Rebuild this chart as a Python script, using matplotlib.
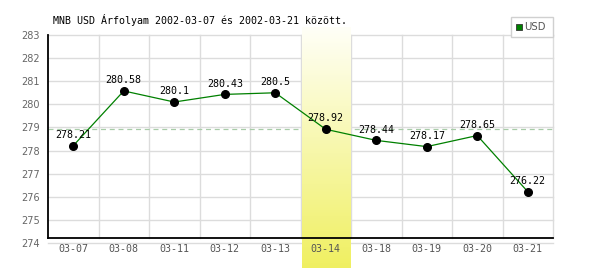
import matplotlib
matplotlib.use("Agg")
import matplotlib.pyplot as plt
import numpy as np
from matplotlib.patches import Rectangle

title = "MNB USD Árfolyam 2002-03-07 és 2002-03-21 között."
series_name = "USD"
dates = ["03-07", "03-08", "03-11", "03-12", "03-13", "03-14", "03-18", "03-19", "03-20", "03-21"]
values = [278.21, 280.58, 280.1, 280.43, 280.5, 278.92, 278.44, 278.17, 278.65, 276.22]
highlight_index = 5
y_ticks = [274, 275, 276, 277, 278, 279, 280, 281, 282, 283]

W, H = 600, 270
fig = plt.figure(figsize=(W / 100, H / 100), dpi=100)
fig.patch.set_facecolor("white")

left_px, right_px, top_px, bottom_px = 48, 553, 35, 243
ax = fig.add_axes([left_px / W, 1 - bottom_px / H, (right_px - left_px) / W, (bottom_px - top_px) / H])
ax.set_facecolor("none")
ax.set_axisbelow(False)

n = len(dates)
x = np.arange(n)
ymin, ymax = y_ticks[0], y_ticks[-1]
ax.set_xlim(-0.5, n - 0.5)
ax.set_ylim(ymin, ymax)
px_per_unit = (bottom_px - top_px) / (ymax - ymin)

# grid
for yv in y_ticks:
    ax.plot([-0.5, n - 0.5], [yv, yv], color="#dcdcdc", lw=1.0, zorder=1, clip_on=False)
for xv in np.arange(0.5, n, 1.0):
    ax.plot([xv, xv], [ymin + 5 / px_per_unit, ymax], color="#dcdcdc", lw=1.0, zorder=1, clip_on=False)

# reference dashed line at highlighted value
ax.plot([-0.5, n - 0.5], [values[highlight_index]] * 2, color="#a8cca8", lw=0.9,
        ls=(0, (4, 3)), zorder=1.1, clip_on=False)

# highlight gradient band (drawn over grid, under labels)
grad = np.linspace(0, 1, 256).reshape(-1, 1)
top_c = np.array([1.0, 1.0, 0.97])
bot_c = np.array([0.94, 0.94, 0.38])
img = top_c[None, None, :] * (1 - grad[:, :, None]) + bot_c[None, None, :] * grad[:, :, None]
y_top = ymax + (top_px - 28) / px_per_unit
y_bot = ymin - (268 - bottom_px) / px_per_unit
ax.imshow(img, extent=[highlight_index - 0.5 + 0.02, highlight_index + 0.5 - 0.02, y_bot, y_top],
          aspect="auto", origin="upper", zorder=1.2, clip_on=False, interpolation="bilinear")

# axes lines
axis_y = ymin + 5 / px_per_unit
ax.plot([-0.5, n - 0.5], [axis_y, axis_y], color="black", lw=1.3, zorder=3, clip_on=False)
ax.plot([-0.5, -0.5], [axis_y, ymax], color="black", lw=1.3, zorder=3, clip_on=False)

for s in ax.spines.values():
    s.set_visible(False)

# data
ax.plot(x, values, color="#008000", lw=0.9, zorder=4, clip_on=False)
ax.plot(x, values, "o", color="black", ms=5.5, zorder=5, clip_on=False)
for xi, v in zip(x, values):
    ax.annotate(f"{v:g}", (xi, v), xytext=(0, 7.8), textcoords="offset points",
                ha="center", va="center", fontsize=7.2, family="DejaVu Sans Mono", color="black", zorder=6)

ax.set_xticks(x)
ax.set_xticklabels(dates, family="DejaVu Sans Mono", fontsize=7.2, color="#555555")
ax.set_yticks(y_ticks)
ax.set_yticklabels([str(t) for t in y_ticks], fontsize=7, color="#666666")
ax.tick_params(axis="both", length=0)
ax.tick_params(axis="x", pad=1)
ax.tick_params(axis="y", pad=6)

# title
fig.text(53 / W, 1 - 20 / H, title, ha="left", va="center", fontsize=7.2,
         family="DejaVu Sans Mono", color="black")

# legend box
fig.patches.append(Rectangle((511 / W, 1 - 37 / H), 42 / W, 20 / H, transform=fig.transFigure,
                             facecolor="white", edgecolor="#d0d0d0", lw=1.0))
fig.patches.append(Rectangle((516 / W, 1 - 30 / H), 6 / W, 6 / H, transform=fig.transFigure,
                             facecolor="#008000", edgecolor="#333333", lw=0.6))
fig.text(524 / W, 1 - 27 / H, series_name, ha="left", va="center", fontsize=7.3, color="#555555")

fig.savefig("out.png", dpi=100)
